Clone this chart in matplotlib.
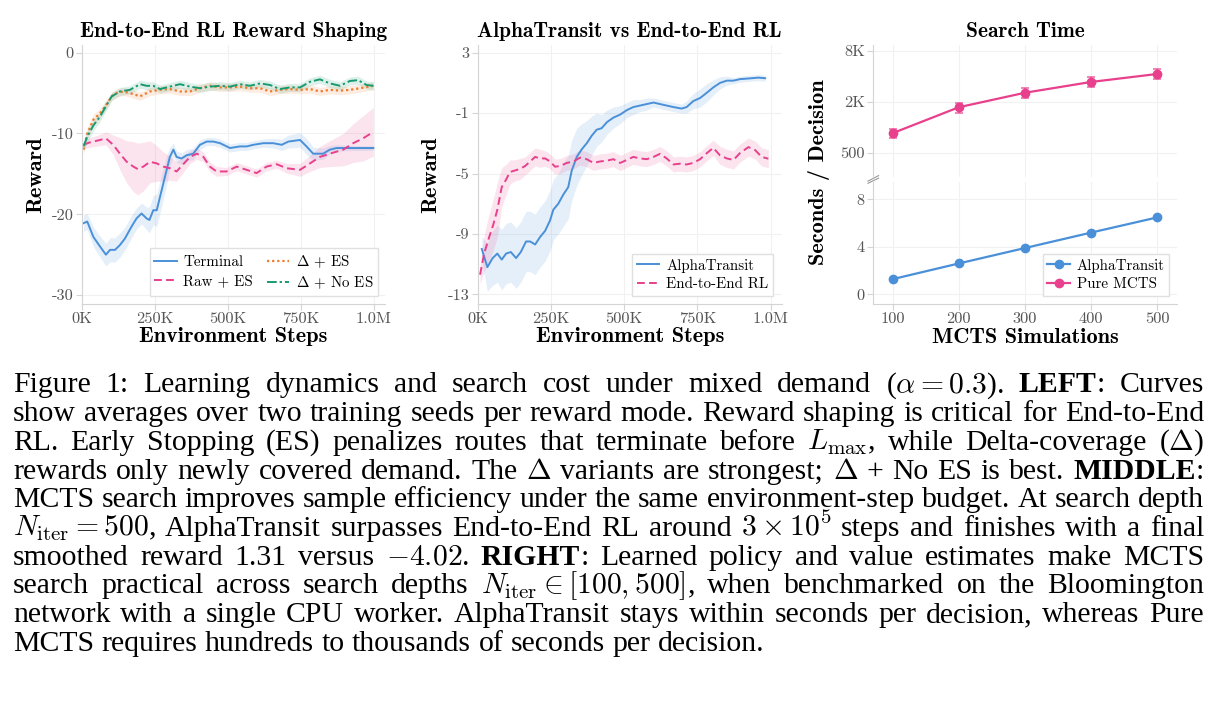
import re
import matplotlib
matplotlib.use("Agg")
import matplotlib.pyplot as plt
from matplotlib.ticker import NullLocator

plt.rcParams['mathtext.fontset'] = 'cm'
plt.rcParams['font.family'] = 'cmr10'
plt.rcParams['axes.unicode_minus'] = False

# ---- data ----
# left: End-to-End RL reward shaping, x in thousands of env steps
term_x = [5, 18, 39, 62, 82, 96, 113, 130, 147, 170, 187, 204, 221, 231, 244, 256, 273, 290, 301, 313,
          324, 341, 358, 381, 404, 427, 450, 473, 507, 541, 564, 587, 621, 655, 684, 707, 747, 769, 792, 826,
          849, 872, 929, 998]
term_y = [-21.1, -20.9, -22.8, -24.0, -25.0, -24.4, -24.4, -23.8, -23.0, -21.5, -20.5, -19.9, -20.5, -20.7,
          -19.5, -19.5, -17.0, -14.5, -12.9, -12.0, -12.9, -13.1, -12.7, -12.5, -11.4, -11.0, -11.0, -11.2,
          -11.8, -11.6, -11.6, -11.4, -11.2, -11.2, -11.4, -11.0, -10.8, -11.6, -12.5, -12.5, -12.0, -11.8,
          -11.8, -11.8]
term_sd = [1.0, 1.0, 1.2, 1.3, 1.4, 1.5, 1.5, 1.5, 1.4, 1.4, 1.3, 1.3, 1.4, 1.6, 1.8, 2.0, 2.0, 1.8, 1.2, 0.8,
           0.7, 0.7, 0.7, 0.7, 0.6, 0.5, 0.5, 0.5, 0.5, 0.5, 0.5, 0.5, 0.5, 0.6, 0.7, 0.8, 0.9, 1.0, 0.8, 0.7,
           0.5, 0.4, 0.3, 0.3]

raw_x = [5, 27, 62, 82, 107, 130, 153, 176, 191, 210, 233, 256, 279, 301, 324, 347, 370, 393, 416, 438,
         461, 495, 530, 564, 598, 632, 667, 701, 747, 781, 815, 849, 895, 929, 963, 998]
raw_y = [-11.4, -11.1, -10.8, -10.6, -11.4, -12.5, -13.5, -14.1, -14.4, -14.1, -13.5, -13.7, -14.1, -14.3,
         -14.7, -13.8, -12.9, -12.5, -12.9, -14.1, -14.7, -14.7, -14.1, -14.5, -14.9, -14.1, -13.8, -14.3,
         -14.5, -13.7, -12.9, -12.5, -12.0, -11.2, -10.6, -9.8]
raw_sd = [0.5, 0.6, 0.7, 0.8, 1.2, 2.0, 2.6, 3.1, 3.2, 3.0, 2.6, 2.2, 1.8, 1.5, 1.2, 1.0, 0.8, 0.7, 0.6, 0.6,
          0.6, 0.5, 0.5, 0.5, 0.5, 0.5, 0.5, 0.6, 0.8, 1.0, 1.3, 1.6, 2.0, 2.4, 2.8, 3.0]

des_x = [5, 18, 39, 62, 82, 102, 119, 142, 164, 199, 233, 267, 301, 336, 370, 404, 438, 473, 507, 541,
         575, 610, 644, 678, 712, 747, 781, 815, 849, 884, 918, 952, 998]
des_y = [-12.0, -10.0, -8.3, -7.5, -6.5, -5.4, -5.0, -4.8, -5.0, -5.4, -4.8, -4.6, -4.5, -4.8, -4.8, -4.4,
         -4.1, -4.3, -4.3, -4.2, -4.4, -4.4, -4.8, -4.6, -4.5, -4.6, -4.5, -4.8, -4.6, -4.7, -4.6, -4.4, -4.1]
des_sd = [0.6, 0.7, 0.7, 0.6, 0.6, 0.5, 0.5, 0.5, 0.5, 0.5, 0.5, 0.5, 0.5, 0.5, 0.5, 0.5, 0.5, 0.5, 0.5,
          0.5, 0.5, 0.5, 0.5, 0.5, 0.5, 0.5, 0.5, 0.5, 0.5, 0.5, 0.5, 0.5, 0.5]

dno_x = [5, 18, 39, 62, 84, 102, 130, 164, 199, 221, 244, 267, 301, 336, 370, 404, 438, 473, 507, 541,
         575, 610, 644, 678, 712, 747, 781, 815, 849, 884, 918, 946, 975, 998]
dno_y = [-11.6, -10.4, -9.0, -7.9, -6.5, -5.4, -4.8, -4.6, -3.9, -4.1, -4.1, -4.5, -4.2, -3.9, -4.2, -4.4,
         -4.2, -4.1, -4.2, -3.9, -4.1, -3.8, -4.0, -4.5, -4.3, -4.3, -3.6, -3.3, -3.8, -4.1, -3.5, -3.4,
         -4.0, -4.1]
dno_sd = [0.6, 0.7, 0.7, 0.6, 0.6, 0.5, 0.5, 0.5, 0.5, 0.5, 0.5, 0.5, 0.5, 0.5, 0.5, 0.5, 0.5, 0.5, 0.5,
          0.5, 0.5, 0.5, 0.5, 0.5, 0.5, 0.5, 0.5, 0.5, 0.5, 0.5, 0.5, 0.5, 0.5, 0.5]

# middle: AlphaTransit vs End-to-End RL
at_x = [14, 33, 51, 67, 82, 97, 113, 131, 147, 165, 179, 196, 213, 230, 247, 258, 275, 292, 309, 321,
        338, 355, 372, 389, 406, 423, 441, 463, 486, 509, 531, 554, 577, 600, 622, 645, 668, 696, 713, 736,
        759, 782, 804, 827, 850, 873, 895, 929, 958, 981]
at_y = [-10.0, -11.2, -10.6, -10.3, -10.7, -10.3, -10.2, -10.6, -10.2, -9.5, -9.5, -9.7, -9.2, -8.8, -8.1,
        -7.4, -7.0, -6.4, -5.9, -4.8, -3.9, -3.4, -3.0, -2.5, -2.1, -2.0, -1.6, -1.3, -1.1, -0.8, -0.6, -0.5,
        -0.4, -0.3, -0.4, -0.5, -0.6, -0.7, -0.6, -0.2, 0.0, 0.35, 0.7, 1.0, 1.15, 1.15, 1.25, 1.3, 1.35, 1.31]
at_sd = [0.8, 1.6, 1.8, 1.9, 2.0, 2.0, 2.0, 2.0, 2.0, 2.0, 2.0, 2.0, 2.0, 2.0, 2.0, 2.0, 2.0, 2.1, 2.1, 2.0,
         1.9, 1.7, 1.5, 1.3, 1.1, 0.9, 0.8, 0.7, 0.6, 0.5, 0.5, 0.4, 0.4, 0.3, 0.3, 0.3, 0.3, 0.3, 0.4, 0.5,
         0.6, 0.6, 0.5, 0.4, 0.3, 0.2, 0.2, 0.2, 0.2, 0.2]

e2e_x = [8, 22, 36, 53, 67, 82, 97, 110, 127, 144, 162, 179, 196, 213, 230, 247, 264, 281, 304, 327,
         349, 372, 395, 418, 441, 463, 486, 509, 531, 554, 577, 600, 622, 645, 668, 690, 713, 736, 759, 782,
         804, 827, 850, 873, 895, 924, 947, 969, 992]
e2e_y = [-11.7, -10.3, -9.4, -8.4, -7.4, -5.9, -5.4, -4.9, -4.8, -4.7, -4.5, -4.2, -3.9, -4.0, -4.0, -4.2,
         -4.55, -4.5, -4.3, -4.2, -3.95, -4.05, -4.3, -4.2, -4.15, -4.05, -4.3, -4.1, -3.9, -4.0, -4.05, -3.9,
         -3.7, -4.0, -4.4, -4.35, -4.4, -4.3, -4.05, -3.65, -3.3, -3.8, -4.0, -4.1, -3.65, -3.25, -3.45, -3.9,
         -4.02]
e2e_sd = [0.6, 1.2, 1.5, 1.7, 1.8, 1.3, 1.0, 0.8, 0.7, 0.7, 0.6, 0.6, 0.6, 0.6, 0.5, 0.5, 0.5, 0.5, 0.5, 0.5,
          0.5, 0.5, 0.5, 0.5, 0.5, 0.5, 0.5, 0.5, 0.5, 0.5, 0.5, 0.5, 0.5, 0.5, 0.5, 0.5, 0.5, 0.5, 0.5, 0.5,
          0.5, 0.6, 0.6, 0.6, 0.6, 0.6, 0.6, 0.6, 0.6]

# right: search time
sims = [100, 200, 300, 400, 500]
pure_sec = [850, 1720, 2550, 3420, 4250]
pure_err = [110, 230, 330, 450, 550]
alpha_sec = [1.28, 2.6, 3.9, 5.2, 6.48]

step_ticks = [0, 250, 500, 750, 1000]
step_labels = ['0K', '250K', '500K', '750K', '1.0M']

caption = [
    r"Figure 1: Learning dynamics and search cost under mixed demand ($\alpha = 0.3$). **LEFT**: Curves",
    r"show averages over two training seeds per reward mode. Reward shaping is critical for End-to-End",
    r"RL. Early Stopping (ES) penalizes routes that terminate before $L_{\max}$, while Delta-coverage ($\Delta$)",
    r"rewards only newly covered demand. The $\Delta$ variants are strongest; $\Delta$ + No ES is best. **MIDDLE**:",
    r"MCTS search improves sample efficiency under the same environment-step budget. At search depth",
    r"$N_{\mathrm{iter}} = 500$, AlphaTransit surpasses End-to-End RL around $3 \times 10^5$ steps and finishes with a final",
    r"smoothed reward 1.31 versus $-4.02$. **RIGHT**: Learned policy and value estimates make MCTS",
    r"search practical across search depths $N_{\mathrm{iter}} \in [100, 500]$, when benchmarked on the Bloomington",
    r"network with a single CPU worker. AlphaTransit stays within seconds per decision, whereas Pure",
    r"MCTS requires hundreds to thousands of seconds per decision.",
]

BLUE = '#4A90D9'
PINK = '#E8408C'
ORANGE = '#F07A2E'
GREEN = '#189A70'
SPINE = '#d4d4d4'
GRID = '#f1f1f1'
TICKC = '#555555'

W, H = 1223, 711
fig = plt.figure(figsize=(W / 100, H / 100), dpi=100)


def add_ax(l, t, r, b):
    return fig.add_axes([l / W, 1 - b / H, (r - l) / W, (b - t) / H])


def style(ax):
    for s in ['top', 'right']:
        ax.spines[s].set_visible(False)
    for s in ['left', 'bottom']:
        ax.spines[s].set_color(SPINE)
        ax.spines[s].set_linewidth(0.8)
    ax.tick_params(color=SPINE, labelcolor=TICKC, length=4, width=0.8, labelsize=11.8, pad=2)
    ax.grid(True, color=GRID, lw=0.8)
    ax.set_axisbelow(True)


def band(ax, x, y, sd, color, ls, lw, label):
    lo = [a - b for a, b in zip(y, sd)]
    hi = [a + b for a, b in zip(y, sd)]
    ax.fill_between(x, lo, hi, color=color, alpha=0.14, lw=0)
    return ax.plot(x, y, color=color, ls=ls, lw=lw, label=label)[0]


bold = dict(family='cmb10')
leg_kw = dict(loc='lower right', borderaxespad=0, fontsize=10.8, fancybox=False, framealpha=1,
              edgecolor='#e0e0e0', handlelength=1.5, handletextpad=0.45, labelspacing=0.35,
              borderpad=0.3)

# ---- left ----
ax1 = add_ax(82, 45, 385, 304)
style(ax1)
band(ax1, term_x, term_y, term_sd, BLUE, '-', 1.4, 'Terminal')
band(ax1, raw_x, raw_y, raw_sd, PINK, (0, (4, 2.2)), 1.4, 'Raw + ES')
band(ax1, des_x, des_y, des_sd, ORANGE, (0, (1, 1.3)), 1.6, r'$\Delta$ + ES')
band(ax1, dno_x, dno_y, dno_sd, GREEN, (0, (5, 1.5, 1.2, 1.5)), 1.4, r'$\Delta$ + No ES')
ax1.set_xlim(0, 1038)
ax1.set_ylim(-31.1, 0.95)
ax1.set_xticks(step_ticks, step_labels)
ax1.set_yticks([0, -10, -20, -30], ['0', '-10', '-20', '-30'])
ax1.set_title('End-to-End RL Reward Shaping', fontsize=15.4, pad=6, **bold)
ax1.set_xlabel('Environment Steps', fontsize=16.1, labelpad=1, **bold)
ax1.set_ylabel('Reward', fontsize=16.1, labelpad=5, **bold)
ax1.legend(ncol=2, bbox_to_anchor=(0.977, 0.031), columnspacing=0.9, **leg_kw)

# ---- middle ----
ax2 = add_ax(477.7, 45, 781.7, 304)
style(ax2)
band(ax2, at_x, at_y, at_sd, BLUE, '-', 1.4, 'AlphaTransit')
band(ax2, e2e_x, e2e_y, e2e_sd, PINK, (0, (4, 2.2)), 1.4, 'End-to-End RL')
ax2.set_xlim(0, 1037.5)
ax2.set_ylim(-13.64, 3.51)
ax2.set_xticks(step_ticks, step_labels)
ax2.set_yticks([3, -1, -5, -9, -13], ['3', '-1', '-5', '-9', '-13'])
ax2.set_title('AlphaTransit vs End-to-End RL', fontsize=15.4, pad=6, **bold)
ax2.set_xlabel('Environment Steps', fontsize=16.1, labelpad=1, **bold)
ax2.set_ylabel('Reward', fontsize=16.1, labelpad=5, **bold)
ax2.legend(bbox_to_anchor=(0.971, 0.031), **leg_kw)

# ---- right (broken y axis) ----
ax3 = add_ax(873.3, 45, 1176.7, 177)
ax4 = add_ax(873.3, 182, 1176.7, 304.3)
style(ax3)
style(ax4)
ax3.spines['bottom'].set_visible(False)
ax3.set_yscale('log')
ax3.set_ylim(258, 9340)
ax3.set_yticks([500, 2000, 8000], ['500', '2K', '8K'])
ax3.yaxis.set_minor_locator(NullLocator())
for a in (ax3, ax4):
    a.set_xlim(70.7, 529.3)
    a.set_xticks(sims)
ax3.tick_params(axis='x', bottom=False, labelbottom=False)
pm = ax3.errorbar(sims, pure_sec, yerr=pure_err, color=PINK, marker='o', ms=6, lw=1.6,
                  ecolor=PINK, elinewidth=1.4, capsize=3, capthick=1.2, label='Pure MCTS')
for c in pm[1] + pm[2]:
    c.set_alpha(0.75)
al, = ax4.plot(sims, alpha_sec, color=BLUE, marker='o', ms=6, lw=1.6, label='AlphaTransit')
ax4.set_ylim(-0.84, 9.46)
ax4.set_yticks([0, 4, 8], ['0', '4', '8'])
ax4.set_xticks(sims, [str(s) for s in sims])
ax4.set_xlabel('MCTS Simulations', fontsize=16.1, labelpad=1, **bold)
ax3.set_title('Search Time', fontsize=15.4, pad=6, **bold)
fig.text(819 / W, 1 - 172 / H, 'Seconds / Decision', rotation=90, ha='center', va='center',
         fontsize=16.1, **bold)
pm_handle = plt.Line2D([], [], color=PINK, marker='o', ms=6, lw=1.6)
ax4.legend([al, pm_handle], ['AlphaTransit', 'Pure MCTS'], bbox_to_anchor=(0.975, 0.068), **leg_kw)
# break marks on the left spine
d = 0.035
kw = dict(color='#999999', lw=0.8, clip_on=False)
ax3.plot([-d * 0.5, d * 0.5], [-d * 0.9, d * 0.3], transform=ax3.transAxes, **kw)
ax4.plot([-d * 0.5, d * 0.5], [1 - d * 0.3, 1 + d * 0.9], transform=ax4.transAxes, **kw)

# ---- caption, justified like the LaTeX paragraph ----
cap_fs = 21.4
cap_left, cap_right = 13, 1204
base0, lead = 392.5, 28.7
renderer = fig.canvas.get_renderer()
for i, line in enumerate(caption):
    y = 1 - (base0 + i * lead) / H
    words = re.findall(r'(?:\$[^$]*\$|\S)+', line)
    items = []
    for w in words:
        pieces = []
        for k, p in enumerate(w.split('**')):
            if p:
                t = fig.text(0, y, p, fontsize=cap_fs, family='Liberation Serif',
                             weight='bold' if k % 2 else 'normal', va='baseline', ha='left')
                pieces.append((t, t.get_window_extent(renderer).width))
        items.append(pieces)
    total = sum(wd for pcs in items for _, wd in pcs)
    if i < len(caption) - 1:
        gap = (cap_right - cap_left - total) / (len(items) - 1)
    else:
        gap = cap_fs * 0.25 * 100 / 72
    x = cap_left
    for pcs in items:
        for t, wd in pcs:
            t.set_x(x / W)
            x += wd
        x += gap

fig.savefig('out.png', dpi=100)
